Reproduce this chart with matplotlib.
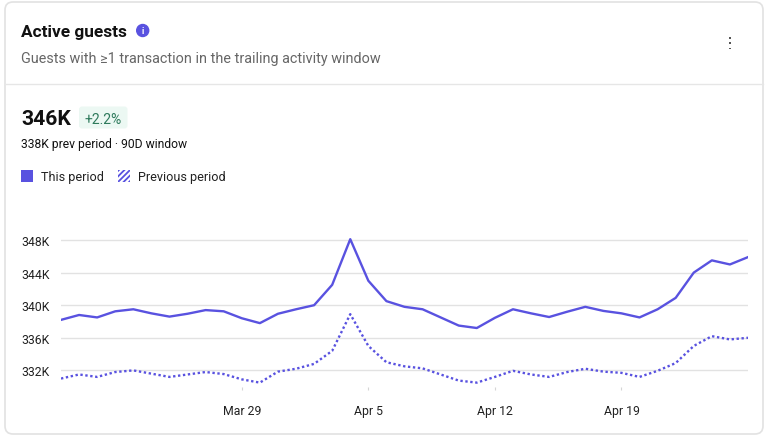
import matplotlib
matplotlib.use("Agg")
import matplotlib.pyplot as plt
from matplotlib.patches import FancyBboxPatch, Rectangle, Circle
import pandas as pd

plt.rcParams['font.family'] = ['Roboto', 'DejaVu Sans']

# data (thousands of guests), one point per day Mar 19 .. Apr 26
dates = pd.date_range("2024-03-19", "2024-04-26", freq="D")
this_period = [338.2, 338.8, 338.5, 339.25, 339.5, 339.0, 338.6, 338.95, 339.4, 339.25,
               338.4, 337.8, 338.95, 339.5, 340.0, 342.5, 348.1, 343.0, 340.5, 339.8,
               339.5, 338.5, 337.5, 337.2, 338.45, 339.5, 339.0, 338.55, 339.2, 339.8,
               339.3, 339.0, 338.5, 339.5, 340.9, 344.0, 345.5, 345.0, 345.9]
prev_period = [331.0, 331.5, 331.2, 331.8, 332.0, 331.6, 331.2, 331.5, 331.8, 331.55,
               330.9, 330.5, 331.85, 332.2, 332.8, 334.4, 338.9, 335.0, 333.0, 332.5,
               332.25, 331.5, 330.75, 330.5, 331.2, 331.95, 331.5, 331.2, 331.8, 332.2,
               331.85, 331.7, 331.2, 331.95, 332.9, 335.0, 336.2, 335.8, 336.0]
y_ticks = [332, 336, 340, 344, 348]
y_labels = ["332K", "336K", "340K", "344K", "348K"]
x_ticks = ["2024-03-29", "2024-04-05", "2024-04-12", "2024-04-19"]
x_labels = ["Mar 29", "Apr 5", "Apr 12", "Apr 19"]

purple = "#5952e0"
W, H = 769, 439

fig = plt.figure(figsize=(W / 100, H / 100), dpi=100)
fig.patch.set_facecolor("white")

# card layer in pixel coordinates
bg = fig.add_axes([0, 0, 1, 1])
bg.set_xlim(0, W)
bg.set_ylim(H, 0)
bg.axis("off")

card = FancyBboxPatch((5, 3), 758, 432, boxstyle="round,pad=0,rounding_size=8",
                      fc="white", ec="#e2e2e2", lw=1.2)
bg.add_patch(card)
bg.plot([5, 763], [85, 85], color="#e6e6e6", lw=1)

bg.text(21, 37.5, "Active guests", fontsize=12.4, fontweight="bold", color="#111111", va="baseline")
bg.add_patch(Circle((142.7, 31.5), 6, color=purple))
bg.text(142.7, 31.8, "i", fontsize=6.5, fontweight="bold", color="white", ha="center", va="center")
bg.text(21, 62.5, "Guests with \u22651 transaction in the trailing activity window",
        fontsize=10.35, color="#666666", va="baseline")
for yy in (39, 44, 49.3):
    bg.add_patch(Rectangle((729.4, yy - 0.6), 1.2, 1.2, color="#555555", lw=0))

bg.text(21, 125, "346K", fontsize=15.2, fontweight="bold", color="#111111", va="baseline")
badge = FancyBboxPatch((79, 107.5), 48.5, 22, boxstyle="round,pad=0,rounding_size=3",
                       fc="#ecf8f3", ec="none")
bg.add_patch(badge)
bg.text(103.3, 124, "+2.2%", fontsize=10, color="#2e7a5c", ha="center", va="baseline")
bg.text(21, 148.3, "338K prev period \u00b7 90D window", fontsize=8.7, color="#111111", va="baseline")

bg.add_patch(Rectangle((21, 171), 11.5, 11.5, fc=purple, ec="none"))
bg.text(41, 181.5, "This period", fontsize=9.1, color="#222222", va="baseline")
plt.rcParams['hatch.linewidth'] = 1.3
bg.add_patch(Rectangle((118, 171), 12, 11.5, fc="white", ec=purple, lw=0, hatch="//////"))
bg.text(138, 181.5, "Previous period", fontsize=9.1, color="#222222", va="baseline")

# chart
left, right = 61 / W, 748 / W
bottom, top = (H - 387.7) / H, (H - 224.7) / H
ax = fig.add_axes([left, bottom, right - left, top - bottom])
ax.set_facecolor("none")
ax.plot(dates, this_period, color=purple, lw=1.7, solid_joinstyle="round")
ax.plot(dates, prev_period, color=purple, lw=1.7, linestyle=(0, (1, 1.1)))

ax.set_xlim(dates[0], dates[-1])
ax.set_ylim(330, 350)
ax.set_yticks(y_ticks)
ax.set_yticklabels(y_labels)
ax.set_xticks(pd.to_datetime(x_ticks))
ax.set_xticklabels(x_labels)
ax.grid(axis="y", color="#e2e2e2", lw=1)
ax.set_axisbelow(True)
for s in ax.spines.values():
    s.set_visible(False)
ax.tick_params(axis="y", length=0, pad=8, labelsize=8.8, labelcolor="#222222")
ax.tick_params(axis="x", length=2.5, color="#d5d5d5", pad=10, labelsize=8.8, labelcolor="#222222")

fig.savefig("out.png", dpi=100, facecolor="white")
